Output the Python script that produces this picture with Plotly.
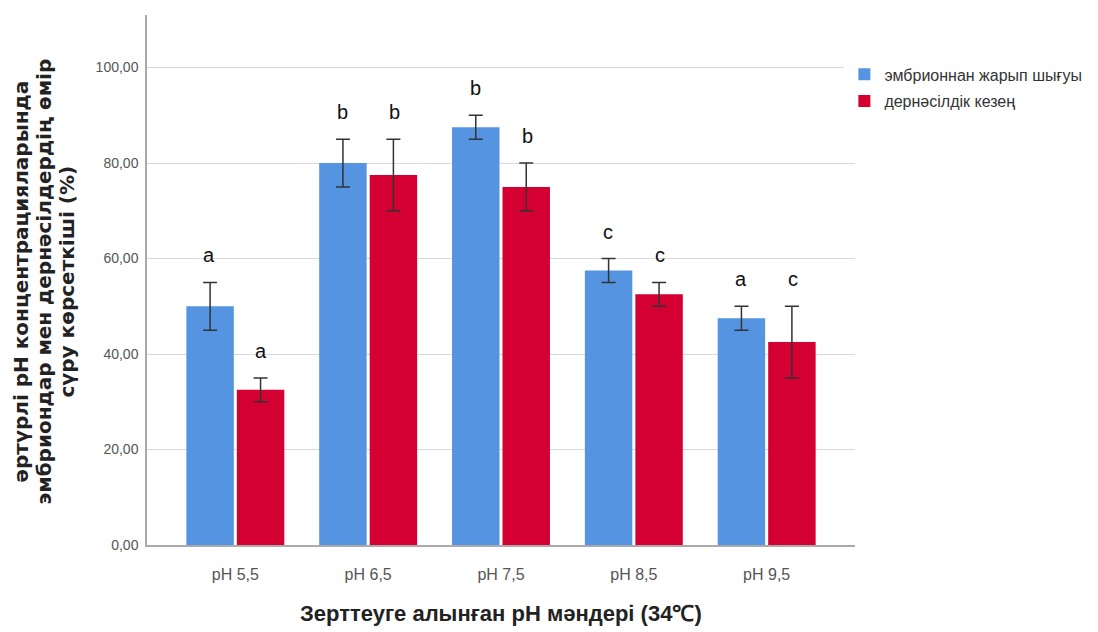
import plotly.graph_objects as go

categories = ["pH 5,5", "pH 6,5", "pH 7,5", "pH 8,5", "pH 9,5"]
series_names = ["эмбрионнан жарып шығуы", "дернәсілдік кезең"]
embryo = [50.0, 80.0, 87.5, 57.5, 47.5]
embryo_err = [5.0, 5.0, 2.5, 2.5, 2.5]
larva = [32.5, 77.5, 75.0, 52.5, 42.5]
larva_err = [2.5, 7.5, 5.0, 2.5, 7.5]
embryo_letters = ["a", "b", "b", "c", "a"]
larva_letters = ["a", "b", "b", "c", "c"]
y_ticks = [0, 20, 40, 60, 80, 100]
y_tick_labels = ["0,00", "20,00", "40,00", "60,00", "80,00", "100,00"]
y_title_lines = ["әртүрлі pH концентрацияларында",
                 "эмбриондар мен дернәсілдердің өмір",
                 "сүру көрсеткіші (%)"]
x_title = "Зерттеуге алынған pH мәндері (34℃)"

colors = ["#5594e0", "#d50032"]
FONT = "Liberation Sans, Arial"

fig = go.Figure()
for i, (name, vals, errs, col) in enumerate([(series_names[0], embryo, embryo_err, colors[0]),
                                             (series_names[1], larva, larva_err, colors[1])]):
    fig.add_trace(go.Bar(
        x=categories, y=vals, name=name, legendgroup="g%d" % i,
        marker=dict(color=col, line=dict(width=0)),
        error_y=dict(type="data", array=errs, visible=True, color="#333333",
                     thickness=1.5, width=7),
    ))

annotations = []
for letters, vals, errs, shift in [(embryo_letters, embryo, embryo_err, -26),
                                   (larva_letters, larva, larva_err, 26)]:
    for c, l, v, e in zip(categories, letters, vals, errs):
        annotations.append(dict(x=c, y=v + e, text=l, showarrow=False,
                                xshift=shift, yshift=14, yanchor="bottom",
                                font=dict(family=FONT, size=20, color="#111111")))

for line, xp in zip(y_title_lines, [-0.1780, -0.1455, -0.1130]):
    annotations.append(dict(
        x=xp, y=0.497, xref="paper", yref="paper", textangle=-90, showarrow=False,
        xanchor="center", yanchor="middle", text="<b>%s</b>" % line,
        font=dict(family="DejaVu Sans", size=20, color="#222222")))
annotations.append(dict(
    x=0.5, y=-0.130, xref="paper", yref="paper", showarrow=False,
    xanchor="center", yanchor="middle", text="<b>%s</b>" % x_title,
    font=dict(family=FONT, size=22, color="#222222")))

fig.update_layout(
    width=1098, height=632,
    margin=dict(l=139, r=251, t=7, b=95),
    paper_bgcolor="white", plot_bgcolor="white",
    barmode="group", bargap=0.24, bargroupgap=0.06,
    font=dict(family=FONT, size=14, color="#555555"),
    showlegend=True,
    legend=dict(x=0.985, y=0.92, xanchor="left", yanchor="top",
                font=dict(size=16, color="#333333"),
                traceorder="grouped", tracegroupgap=3, itemwidth=30),
    annotations=annotations,
    xaxis=dict(range=[-0.665, 4.665], showgrid=False, showline=True,
               linecolor="#aaaaaa", linewidth=1.5, ticks="",
               tickfont=dict(size=16, color="#555555"), zeroline=False,
               ticklabelstandoff=14),
    yaxis=dict(range=[0, 111], tickvals=y_ticks, ticktext=y_tick_labels,
               showgrid=True, gridcolor="#d9d9d9", gridwidth=1.2,
               showline=True, linecolor="#aaaaaa", linewidth=1.5,
               ticks="", tickfont=dict(size=14, color="#555555"),
               zeroline=False, ticklabelstandoff=4),
)

fig.write_html("out.html")
